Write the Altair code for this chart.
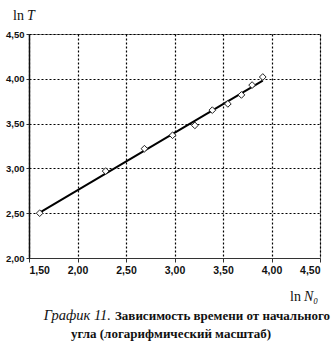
import altair as alt
import pandas as pd

ln_n0 = [1.61, 2.29, 2.69, 2.98, 3.21, 3.39, 3.55, 3.69, 3.80, 3.91]
ln_t = [2.50, 2.97, 3.22, 3.37, 3.48, 3.65, 3.72, 3.82, 3.93, 4.02]
x_ticks = [1.5, 2.0, 2.5, 3.0, 3.5, 4.0, 4.5]
y_ticks = [2.0, 2.5, 3.0, 3.5, 4.0, 4.5]

df = pd.DataFrame({"x": ln_n0, "y": ln_t})

W, H = 291, 224
label_expr = "replace(format(datum.value, '.2f'), '.', ',')"

xs = alt.Scale(domain=[1.5, 4.5], nice=False, zero=False)
ys = alt.Scale(domain=[2.0, 4.5], nice=False, zero=False)

base = alt.Chart(df)

line = base.transform_regression("x", "y").mark_line(color="black", strokeWidth=2).encode(
    x=alt.X("x:Q", scale=xs,
            axis=alt.Axis(values=x_ticks, labelExpr=label_expr, title=None,
                          grid=True, gridColor="#000", gridDash=[2, 2], gridWidth=1.2,
                          domainColor="#333", tickColor="#333", tickSize=4,
                          labelFont="Liberation Sans", labelFontWeight="bold",
                          labelFontSize=10.5, labelColor="#111", labelPadding=3)),
    y=alt.Y("y:Q", scale=ys,
            axis=alt.Axis(values=y_ticks, labelExpr=label_expr, title=None,
                          grid=True, gridColor="#000", gridDash=[2, 2], gridWidth=1.2,
                          domainColor="#111", domainWidth=1.5, tickColor="#333", tickSize=3,
                          labelFont="Liberation Sans", labelFontWeight="bold",
                          labelFontSize=9.5, labelColor="#111", labelPadding=2)),
)

pts = base.mark_point(shape="diamond", filled=True, fill="white", stroke="#222",
                      strokeWidth=1, size=45, opacity=1).encode(
    x=alt.X("x:Q", scale=xs), y=alt.Y("y:Q", scale=ys))


def txt(s, x, y, style="normal", weight="normal", size=13, align="left", font="Liberation Serif"):
    return alt.Chart(pd.DataFrame({"t": [s]})).mark_text(
        font=font, fontSize=size, fontStyle=style, fontWeight=weight,
        align=align, baseline="alphabetic", color="#111").encode(
        x=alt.value(x), y=alt.value(y), text="t:N")


ox, oy = 29, 34
texts = [
    txt("ln", 13 - ox, 20 - oy, size=14),
    txt("T", 27 - ox, 20 - oy, style="italic", size=14),
    txt("ln", 290 - ox, 301 - oy, size=14),
    txt("N₀", 304 - ox, 301 - oy, style="italic", size=14),
    txt("График 11.", 111 - ox, 320 - oy, style="italic", size=14.5, align="right"),
    txt("Зависимость времени от начального", 115 - ox, 320 - oy, weight="bold", size=13),
    txt("угла (логарифмический масштаб)", 171 - ox, 338 - oy, weight="bold", size=13, align="center"),
]

chart = alt.layer(line, pts, *texts).properties(
    width=W, height=H,
    autosize=alt.AutoSizeParams(type="none"),
    padding={"left": ox, "top": oy, "right": 336 - ox - W, "bottom": 353 - oy - H},
    background="white",
).configure_view(stroke="#888", strokeWidth=1)

chart.save("out.html", embed_options={"renderer": "svg", "actions": False})
